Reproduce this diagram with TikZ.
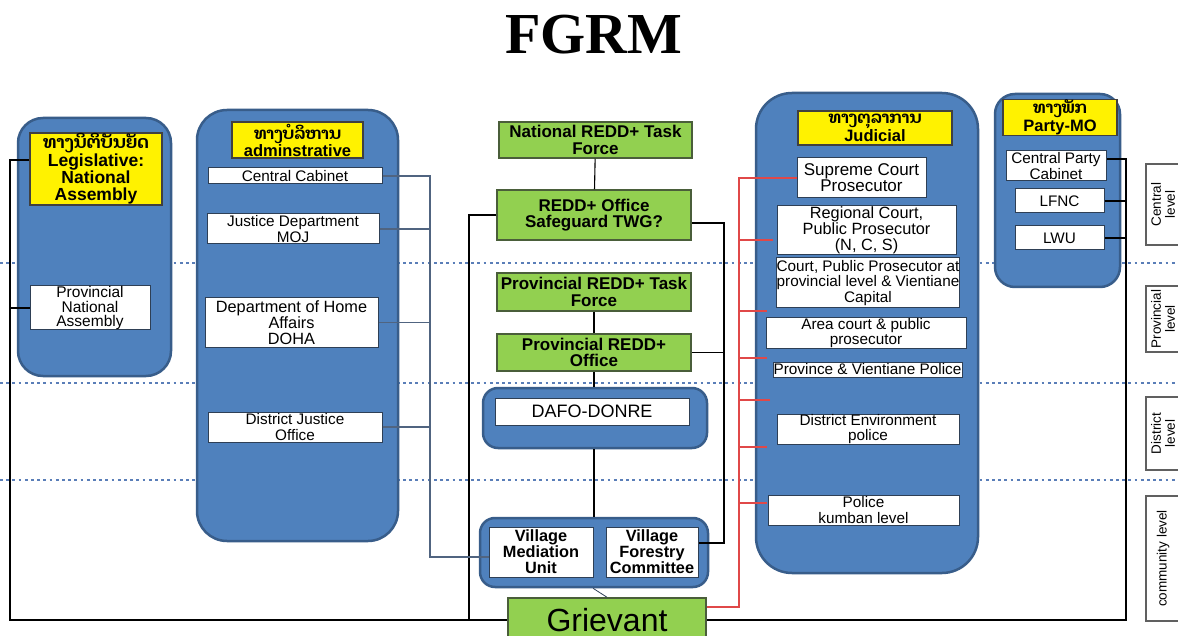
\documentclass[tikz,border=0pt]{standalone}
\usepackage{fontspec}
\setmainfont{Liberation Sans}
\newfontfamily\laofont[Script=Lao]{Dhyana}
\newfontfamily\titleserif{Liberation Serif}
\usetikzlibrary{calc}
\definecolor{colblue}{HTML}{4F81BD}
\definecolor{colborder}{HTML}{385D8A}
\definecolor{dotblue}{HTML}{5A7EB8}
\definecolor{gfill}{HTML}{92D050}
\definecolor{gborder}{HTML}{4A5E3A}
\definecolor{wborder}{HTML}{2E3F55}
\definecolor{adminline}{HTML}{506480}
\definecolor{redline}{HTML}{E04848}
\definecolor{lvlborder}{HTML}{606060}
\newcommand{\fWhite}{\fontsize{15.3}{15.5}\selectfont}
\newcommand{\fHead}{\fontsize{16.5}{17}\selectfont\bfseries}
\newcommand{\fGreen}{\fontsize{17}{16.5}\selectfont\bfseries}
\begin{document}
\begin{tikzpicture}[x=1pt,y=-1pt,
  sz/.style 2 args={minimum width=#1, minimum height=#2},
  col/.style={draw=colborder, fill=colblue, line width=2.5pt, rounded corners=#1, inner sep=0pt},
  wbox/.style={draw=wborder, fill=white, line width=1pt, inner sep=0pt, align=center, font=\fWhite},
  vbox/.style={wbox, font=\fontsize{16.3}{16}\selectfont\bfseries},
  ybox/.style={draw=black!75, fill=yellow, line width=1.2pt, inner sep=0pt, align=center, font=\fHead},
  gbox/.style={draw=gborder, fill=gfill, line width=1.5pt, inner sep=0pt, align=center, font=\fGreen},
  lvl/.style={draw=lvlborder, fill=white, line width=1.2pt, inner sep=0pt, align=center, font=\fontsize{13.5}{14}\selectfont},
  dotline/.style={draw=dotblue, line width=2.8pt, dash pattern=on 2.8pt off 3.4pt},
  conn/.style={draw=black, line width=1.1pt},
  aconn/.style={draw=adminline, line width=1.1pt},
  rconn/.style={draw=redline, line width=1.1pt}
]
\useasboundingbox (0,0) rectangle (1178,636);
\clip (0,0) rectangle (1178,636);
\fill[white] (0,0) rectangle (1178,636);

% title
\node[font=\titleserif\bfseries\fontsize{58}{58}\selectfont] (title) at (594,35) {FGRM};

% level separators
\draw[dotline] (0,263) -- (1176,263);
\draw[dotline] (0,383) -- (1176,383);
\draw[dotline] (0,480) -- (1176,480);

% level boxes
\node[lvl, sz={81}{34}, rotate=90] (lc) at (1163,204.5) {Central\\level};
\node[lvl, sz={66}{34}, rotate=90] (lp) at (1163,319) {Provincial\\level};
\node[lvl, sz={73}{34}, rotate=90] (ld) at (1163,433.5) {District\\level};
\node[lvl, sz={125}{34}, rotate=90] (lm) at (1163,558.5) {community level};

% Legislative column
\node[col=25, sz={153}{258}] (legcol) at (94.5,247) {};
\node[ybox, sz={132}{72}, font=\fontsize{17.5}{17}\selectfont\bfseries] (legy) at (96,169) {{\laofont ທາງນິຕິບັນຍັດ}\\Legislative:\\National\\Assembly};
\node[wbox, sz={120}{44}, font=\fontsize{15.5}{14.5}\selectfont] (pna) at (90,308) {Provincial\\National\\Assembly};

% Administrative column
\node[col=30, sz={201}{431}] (admcol) at (297.5,325.5) {};
\node[ybox, sz={131}{36}] (admy) at (297.5,140) {{\laofont ທາງບໍລິຫານ}\\adminstrative};
\node[wbox, sz={174}{16}] (cc) at (295,176) {Central Cabinet};
\node[wbox, sz={172}{30}] (moj) at (293,229) {Justice Department\\MOJ};
\node[wbox, sz={173}{49}, font=\fontsize{16.3}{16}\selectfont] (doha) at (291.5,322.5) {Department of Home\\Affairs\\DOHA};
\node[wbox, sz={174}{30}] (djo) at (295,427) {District Justice\\Office};

% Middle column
\node[gbox, sz={193}{36}] (ntf) at (595.5,140) {National REDD+ Task\\Force};
\node[gbox, sz={194}{50}] (ro) at (594,215) {REDD+ Office\\Safeguard TWG?};
\node[gbox, sz={194}{38}] (ptf) at (594,292) {Provincial REDD+ Task\\Force};
\node[gbox, sz={194}{37}] (pro) at (594,352.5) {Provincial REDD+\\Office};
\node[col=15, sz={224}{60}] (dafoc) at (595,418) {};
\node[wbox, sz={194}{27}, font=\fontsize{18}{18}\selectfont] (dafo) at (592,411.5) {DAFO-DONRE};
\node[col=15, sz={228}{69}] (vilc) at (594,552.5) {};
\node[vbox, sz={104}{50}] (vmu) at (541,552) {Village\\Mediation\\Unit};
\node[vbox, sz={92}{50}] (vfc) at (652,552) {Village\\Forestry\\Committee};
\node[draw=gborder, fill=gfill, line width=1.5pt, inner sep=0pt, sz={198}{44},
      font=\fontsize{32}{32}\selectfont] (grv) at (607,620) {Grievant};

% Judicial column
\node[col=36, sz={222}{480}] (judcol) at (867,333) {};
\node[ybox, sz={154}{34}] (judy) at (875,128) {{\laofont ທາງຕຸລາການ}\\Judicial};
\node[wbox, sz={129}{40}, font=\fontsize{17}{16}\selectfont] (sc) at (861.5,178) {Supreme Court\\Prosecutor};
\node[wbox, sz={179}{49}, font=\fontsize{16.3}{15.8}\selectfont] (rc) at (866.5,230.5) {Regional Court,\\Public Prosecutor\\(N, C, S)};
\node[wbox, sz={182}{50}] (cpp) at (868,283) {Court, Public Prosecutor at\\provincial level \& Vientiane\\Capital};
\node[wbox, sz={200}{30}] (acp) at (866,333) {Area court \& public\\prosecutor};
\node[wbox, sz={189}{15}] (pvp) at (867.5,369.5) {Province \& Vientiane Police};
\node[wbox, sz={182}{30}] (dep) at (868,429) {District Environment\\police};
\node[wbox, sz={191}{30}] (pkl) at (863.5,510) {Police\\kumban level};

% Party column
\node[col=20, sz={125}{193}] (parcol) at (1057.5,190.5) {};
\node[ybox, sz={114}{35}, font=\fontsize{16.5}{18}\selectfont\bfseries] (pary) at (1060,117.5) {{\laofont ທາງພັກ}\\Party-MO};
\node[wbox, sz={100}{30}] (cpc) at (1056,166) {Central Party\\Cabinet};
\node[wbox, sz={89}{24}] (lfnc) at (1059.5,201) {LFNC};
\node[wbox, sz={89}{24}] (lwu) at (1059.5,238) {LWU};

% bus coordinates
\coordinate (lbus) at (10,620);
\coordinate (rbus) at (469,620);
\coordinate (abus) at (430,557);
\coordinate (mbus) at (724,543);
\coordinate (jbus) at (739,607);
\coordinate (pbus) at (1126,620);
\coordinate (j1) at (773,240);
\coordinate (j2) at (767,311);
\coordinate (j3) at (767,358);
\coordinate (j4) at (770,400);
\coordinate (j5) at (767,447);
\coordinate (j6) at (767,503);

% legislative connector
\draw[conn] ([yshift=9pt]legy.west) -| (lbus) -- (grv.west);
\draw[conn] (pna.west) -- (pna.west -| lbus);
% REDD+ office left connector
\draw[conn] (ro.west) -| (rbus);

% administrative connector
\draw[aconn] (cc.east) -| (abus) -- ([yshift=-5pt]vmu.west);
\draw[aconn] (moj.east) -- (moj.east -| abus);
\draw[aconn] (doha.east) -- (doha.east -| abus);
\draw[aconn] (djo.east) -- (djo.east -| abus);

% middle chain
\draw[conn] (ntf) -- (ro);
\draw[conn] (ptf) -- (pro);
\draw[conn] (pro.south) -- (dafoc.north -| pro.south);
\draw[conn] (dafoc.south -| pro.south) -- (vilc.north -| pro.south);
\draw[conn, line width=0.8pt, draw=wborder] ([xshift=-1pt]vilc.south) -- (grv.north);
\draw[conn] ([yshift=-8pt]ro.east) -| (mbus) -- ([yshift=9pt]vfc.east);
\draw[conn] (pro.east) -- (pro.east -| mbus);

% judicial connector
\draw[rconn] (sc.west) -| (jbus) -- ([yshift=13pt]grv.east);
\foreach \j in {j1,j2,j3,j4,j5,j6} { \draw[rconn] (\j) -- (\j -| jbus); }

% party connector
\draw[conn] (grv.east) -- (pbus) |- ([yshift=7pt]cpc.east);
\draw[conn] (lfnc.east) -- (lfnc.east -| pbus);
\draw[conn] (lwu.east) -- (lwu.east -| pbus);
\end{tikzpicture}
\end{document}
